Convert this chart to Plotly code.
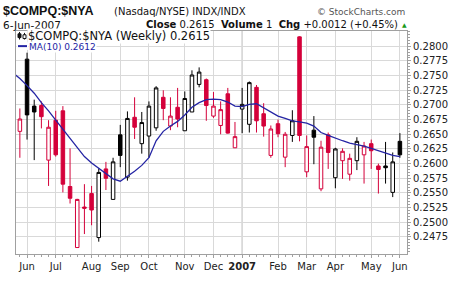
import plotly.graph_objects as go
import pandas as pd

# ---------------- data (weekly candles, Monday-dated weeks) ----------------
first_week = "2006-05-29"
opens  = [0.2655, 0.2778, 0.2698, 0.2699, 0.2606, 0.2674, 0.2690, 0.2561, 0.2457, 0.2526,
          0.2549, 0.2474, 0.2591, 0.2539, 0.2649, 0.2577, 0.2679, 0.2634, 0.2647, 0.2661,
          0.2713, 0.2664, 0.2696, 0.2656, 0.2688, 0.2735, 0.2743, 0.2681, 0.2665, 0.2719,
          0.2627, 0.2693, 0.2667, 0.2730, 0.2685, 0.2614, 0.2668, 0.2611, 0.2648, 0.2816,
          0.2586, 0.2657, 0.2557, 0.2649, 0.2576, 0.2605, 0.2582, 0.2605, 0.2615, 0.2634,
          0.2596, 0.2596, 0.2551, 0.2638]
highs  = [0.2694, 0.2789, 0.2709, 0.2706, 0.2674, 0.2690, 0.2698, 0.2626, 0.2540, 0.2565,
          0.2562, 0.2592, 0.2603, 0.2610, 0.2666, 0.2689, 0.2713, 0.2688, 0.2706, 0.2732,
          0.2725, 0.2713, 0.2729, 0.2723, 0.2759, 0.2764, 0.2745, 0.2722, 0.2706, 0.2729,
          0.2671, 0.2729, 0.2740, 0.2734, 0.2703, 0.2665, 0.2675, 0.2654, 0.2691, 0.2817,
          0.2648, 0.2681, 0.2639, 0.2653, 0.2627, 0.2626, 0.2617, 0.2645, 0.2637, 0.2641,
          0.2600, 0.2637, 0.2619, 0.2652]
lows   = [0.2610, 0.2641, 0.2606, 0.2660, 0.2562, 0.2612, 0.2551, 0.2532, 0.2457, 0.2480,
          0.2495, 0.2467, 0.2555, 0.2539, 0.2594, 0.2571, 0.2642, 0.2617, 0.2610, 0.2656,
          0.2674, 0.2657, 0.2662, 0.2656, 0.2688, 0.2730, 0.2673, 0.2678, 0.2650, 0.2651,
          0.2627, 0.2652, 0.2653, 0.2653, 0.2646, 0.2610, 0.2645, 0.2594, 0.2637, 0.2638,
          0.2577, 0.2599, 0.2553, 0.2591, 0.2558, 0.2574, 0.2571, 0.2589, 0.2566, 0.2591,
          0.2549, 0.2566, 0.2543, 0.2610]
closes = [0.2676, 0.2683, 0.2688, 0.2680, 0.2662, 0.2615, 0.2565, 0.2541, 0.2539, 0.2524,
          0.2521, 0.2585, 0.2575, 0.2603, 0.2614, 0.2677, 0.2662, 0.2670, 0.2698, 0.2729,
          0.2694, 0.2681, 0.2676, 0.2711, 0.2751, 0.2756, 0.2699, 0.2698, 0.2692, 0.2652,
          0.2646, 0.2701, 0.2738, 0.2673, 0.2664, 0.2659, 0.2651, 0.2650, 0.2673, 0.2648,
          0.2629, 0.2645, 0.2628, 0.2619, 0.2625, 0.2621, 0.2609, 0.2638, 0.2630, 0.2622,
          0.2590, 0.2593, 0.2603, 0.2615]
close_before_first = 0.2690   # close of the week preceding the first candle
ma_before_first = 0.2755      # MA(10) of the week preceding the first candle
ma10   = [0.2745, 0.2733, 0.2720, 0.2704, 0.2690, 0.2674, 0.2658, 0.2642, 0.2626, 0.2612,
          0.2601, 0.2592, 0.2583, 0.2574, 0.2570, 0.2578, 0.2587, 0.2597, 0.2610, 0.2639,
          0.2655, 0.2664, 0.2672, 0.2683, 0.2696, 0.2704, 0.2709, 0.2710, 0.2709, 0.2705,
          0.2698, 0.2697, 0.2701, 0.2702, 0.2695, 0.2687, 0.2681, 0.2677, 0.2673, 0.2671,
          0.2669, 0.2664, 0.2653, 0.2648, 0.2643, 0.2639, 0.2635, 0.2633, 0.2630, 0.2626,
          0.2622, 0.2618, 0.2614, 0.2612]
month_labels = ["Jun", "Jul", "Aug", "Sep", "Oct", "Nov", "Dec", "<b>2007</b>",
                "Feb", "Mar", "Apr", "May", "Jun"]
price_ticks = [0.2475, 0.2500, 0.2525, 0.2550, 0.2575, 0.2600, 0.2625, 0.2650,
               0.2675, 0.2700, 0.2725, 0.2750, 0.2775, 0.2800]

# ---------------- derived ----------------
weeks = pd.date_range(first_week, periods=len(closes), freq="7D")
prev_week = weeks[0] - pd.Timedelta(days=7)
month_start_weeks = [w for i, w in enumerate(weeks) if i > 0 and w.month != weeks[i - 1].month]
prev_closes = [close_before_first] + closes[:-1]
up_idx = [i for i in range(len(closes)) if closes[i] >= prev_closes[i]]
dn_idx = [i for i in range(len(closes)) if closes[i] < prev_closes[i]]

RED = "#d4003a"
BLACK = "#000000"
BLUE = "#2424a4"

def sub(lst, idx):
    return [lst[i] for i in idx]

fig = go.Figure()

# MA(10)
fig.add_trace(go.Scatter(
    x=[prev_week] + list(weeks), y=[ma_before_first] + ma10, mode="lines",
    line=dict(color=BLUE, width=1.3), hoverinfo="skip"))

for idx, col in ((up_idx, BLACK), (dn_idx, RED)):
    fig.add_trace(go.Candlestick(
        x=sub(list(weeks), idx), open=sub(opens, idx), high=sub(highs, idx),
        low=sub(lows, idx), close=sub(closes, idx),
        increasing=dict(line=dict(color=col, width=1), fillcolor="white"),
        decreasing=dict(line=dict(color=col, width=1), fillcolor=col),
        whiskerwidth=0))

week = pd.Timedelta(days=7)
x_range = [weeks[0] - 0.54 * week, weeks[-1] + 0.99 * week]

GRID = "#d9d9d9"
AX = "#a0a0a0"
fig.update_layout(
    width=460, height=284,
    margin=dict(l=16, r=53, t=31, b=17),
    plot_bgcolor="white", paper_bgcolor="white",
    showlegend=False,
    font=dict(family="DejaVu Sans", size=10, color="#222"),
    xaxis=dict(
        type="date", range=x_range, rangeslider=dict(visible=False),
        tickmode="array", tickvals=month_start_weeks, ticktext=month_labels,
        showgrid=True, gridcolor=GRID, gridwidth=1,
        showline=True, linecolor=AX, linewidth=1, mirror=True,
        ticks="outside", ticklen=3, tickcolor=AX,
        tickfont=dict(family="DejaVu Sans", size=10, color="#222"),
        minor=dict(tickvals=list(weeks), ticks="outside", ticklen=2, tickcolor=AX, showgrid=False),
        zeroline=False, fixedrange=True,
    ),
    yaxis=dict(
        side="right", range=[0.2446, 0.2826],
        tickmode="array", tickvals=price_ticks, tickformat=".4f",
        showgrid=True, gridcolor=GRID, gridwidth=1,
        showline=True, linecolor=AX, linewidth=1, mirror=True,
        ticks="outside", ticklen=3, tickcolor=AX,
        tickfont=dict(family="DejaVu Sans", size=10, color="#222"),
        minor=dict(tickmode="linear", tick0=0.2475, dtick=0.0005, ticks="outside",
                   ticklen=2, tickcolor=AX, showgrid=False),
        zeroline=False, fixedrange=True,
    ),
)

# darker year gridline
year_week = month_start_weeks[month_labels.index("<b>2007</b>")]
fig.add_shape(type="line", xref="x", yref="paper", x0=year_week, x1=year_week, y0=0, y1=1,
              line=dict(color="#aaaaaa", width=1), layer="below")

def px(x):
    return (x - 16) / 391.0

def py(y):
    return (267 - y) / 236.0

ann = []
ann.append(dict(text="<b>$COMPQ:$NYA</b>", x=px(1), y=py(9.5), xanchor="left", yanchor="middle",
                font=dict(family="Liberation Sans", size=12.5, color="#111")))
ann.append(dict(text="(Nasdaq/NYSE) INDX/INDX", x=px(112), y=py(10.5), xanchor="left", yanchor="middle",
                font=dict(family="DejaVu Sans", size=10, color="#111")))
ann.append(dict(text="© StockCharts.com", x=px(407), y=py(10.5), xanchor="right", yanchor="middle",
                font=dict(family="DejaVu Sans", size=9, color="#555")))
ann.append(dict(text="6-Jun-2007", x=px(1), y=py(24.5), xanchor="left", yanchor="middle",
                font=dict(family="DejaVu Sans", size=10.5, color="#111")))
ann.append(dict(text="<b>Close</b> 0.2615&nbsp; <b>Volume</b> 1&nbsp; <b>Chg</b> +0.0012 (+0.45%)",
                x=px(400), y=py(24), xanchor="right", yanchor="middle",
                font=dict(family="DejaVu Sans", size=10, color="#111")))
ann.append(dict(text="▲", x=px(404), y=py(24.5), xanchor="center", yanchor="middle",
                font=dict(family="DejaVu Sans", size=6, color="#1a9a1a")))
ann.append(dict(text="$COMPQ:$NYA (Weekly) 0.2615", x=px(27), y=py(36), xanchor="left", yanchor="middle",
                bgcolor="white", borderpad=0,
                font=dict(family="DejaVu Sans", size=11.5, color="#111")))
ann.append(dict(text="MA(10) 0.2612", x=px(28), y=py(47.5), xanchor="left", yanchor="middle",
                bgcolor="white", borderpad=0,
                font=dict(family="DejaVu Sans", size=9, color=BLUE)))
for a in ann:
    a.update(xref="paper", yref="paper", showarrow=False)
fig.update_layout(annotations=ann)

# legend icons
fig.add_shape(type="rect", xref="paper", yref="paper", x0=px(16.5), x1=px(27), y0=py(42), y1=py(31.5),
              fillcolor="white", line=dict(width=0))
fig.add_shape(type="line", xref="paper", yref="paper", x0=px(19.5), x1=px(19.5), y0=py(40), y1=py(32),
              line=dict(color="#111", width=1))
fig.add_shape(type="rect", xref="paper", yref="paper", x0=px(18), x1=px(21), y0=py(38), y1=py(34),
              fillcolor="#111", line=dict(color="#111", width=1))
fig.add_shape(type="line", xref="paper", yref="paper", x0=px(24.5), x1=px(24.5), y0=py(40), y1=py(33),
              line=dict(color="#111", width=1))
fig.add_shape(type="rect", xref="paper", yref="paper", x0=px(23), x1=px(26), y0=py(39), y1=py(35),
              fillcolor="white", line=dict(color="#111", width=1))
fig.add_shape(type="rect", xref="paper", yref="paper", x0=px(16.5), x1=px(28), y0=py(51), y1=py(43),
              fillcolor="white", line=dict(width=0))
fig.add_shape(type="line", xref="paper", yref="paper", x0=px(18), x1=px(27), y0=py(47), y1=py(47),
              line=dict(color=BLUE, width=2))

fig.write_html("out.html")
